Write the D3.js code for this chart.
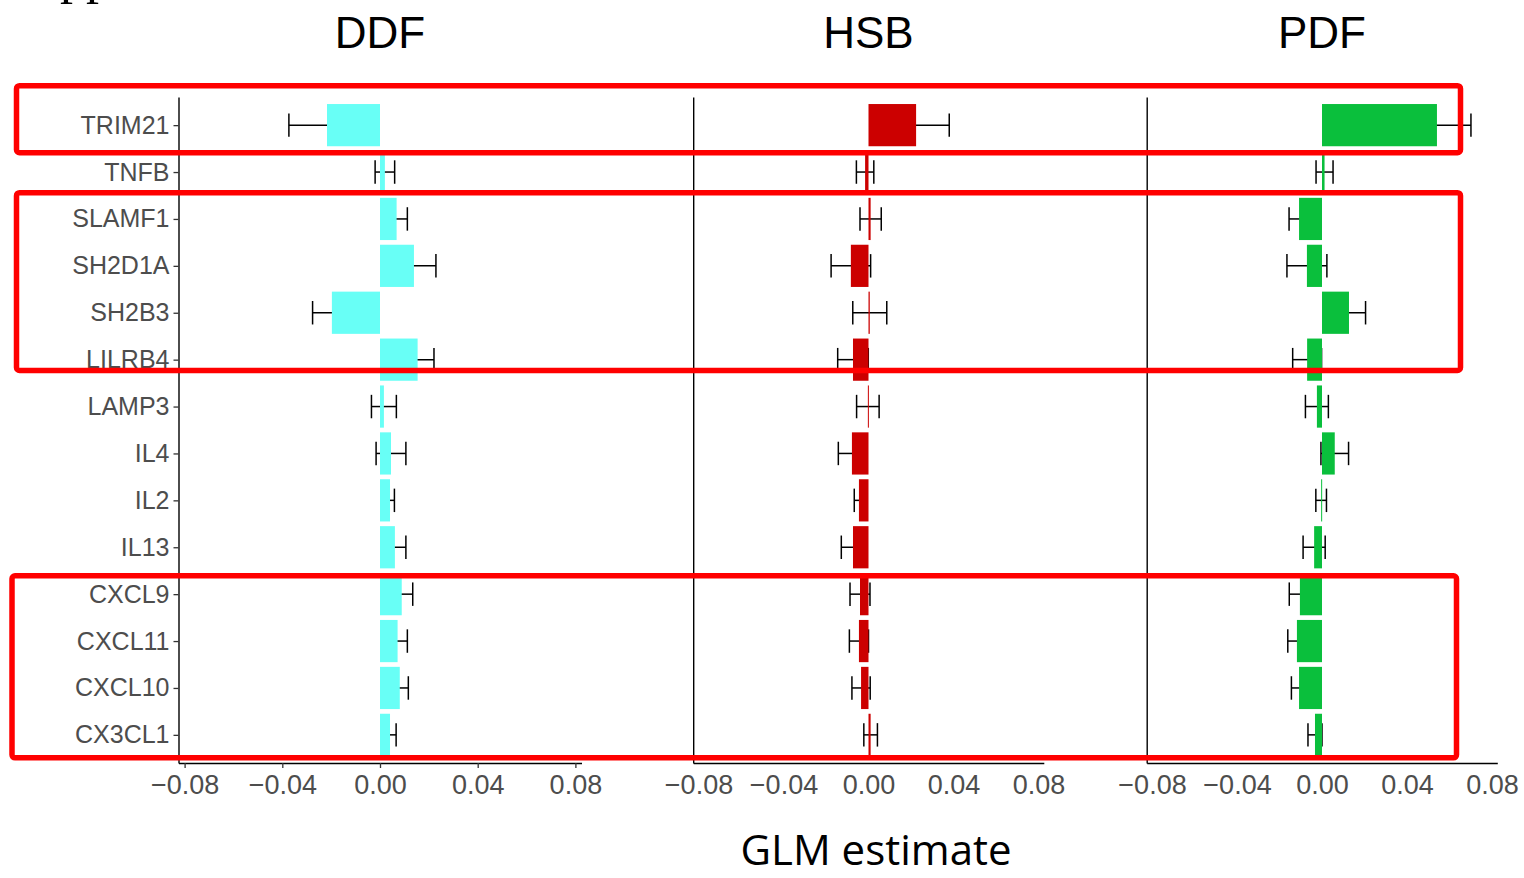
<!DOCTYPE html>
<html>
<head>
<meta charset="utf-8">
<script src="https://cdn.jsdelivr.net/npm/d3@7"></script>
<style>
  body { margin: 0; background: #fff; }
  svg { display: block; }
</style>
</head>
<body>
<svg id="chart"></svg>
<script>
// genes, top to bottom
const genes = ["TRIM21", "TNFB", "SLAMF1", "SH2D1A", "SH2B3", "LILRB4", "LAMP3",
               "IL4", "IL2", "IL13", "CXCL9", "CXCL11", "CXCL10", "CX3CL1"];

// GLM estimates and standard errors per group
const ddfEst = [-0.0217, 0.0020, 0.0068, 0.0139, -0.0197, 0.0154, 0.0016, 0.0045, 0.0041, 0.0061, 0.0089, 0.0072, 0.0081, 0.0041];
const ddfSe  = [0.0156, 0.0040, 0.0044, 0.0090, 0.0079, 0.0067, 0.0051, 0.0061, 0.0018, 0.0045, 0.0045, 0.0040, 0.0035, 0.0025];
const hsbEst = [0.0224, -0.0016, 0.0010, -0.0083, 0.0006, -0.0073, -0.0003, -0.0078, -0.0045, -0.0073, -0.0040, -0.0045, -0.0035, 0.0010];
const hsbSe  = [0.0156, 0.0041, 0.0050, 0.0093, 0.0080, 0.0072, 0.0053, 0.0064, 0.0022, 0.0055, 0.0047, 0.0045, 0.0043, 0.0032];
const pdfEst = [0.0541, 0.0012, -0.0108, -0.0071, 0.0127, -0.0070, -0.0024, 0.0060, -0.0004, -0.0037, -0.0104, -0.0118, -0.0108, -0.0033];
const pdfSe  = [0.0160, 0.0040, 0.0047, 0.0094, 0.0078, 0.0068, 0.0054, 0.0065, 0.0025, 0.0052, 0.0050, 0.0043, 0.0036, 0.0033];

const xTicks = [-0.08, -0.04, 0, 0.04, 0.08];

// highlighted gene groups (red boxes)
const boxGroups = [["TRIM21", "TRIM21"], ["SLAMF1", "LILRB4"], ["CXCL9", "CX3CL1"]];

const W = 1524, H = 878;
const svg = d3.select("#chart").attr("width", W).attr("height", H);
svg.append("rect").attr("width", W).attr("height", H).attr("fill", "#fff");

const panels = [
  { name: "DDF", est: ddfEst, se: ddfSe, color: "#68FFF6", range: [178.5, 581.5], labels: true },
  { name: "HSB", est: hsbEst, se: hsbSe, color: "#CC0000", range: [693.2, 1043.8], labels: false },
  { name: "PDF", est: pdfEst, se: pdfSe, color: "#0ABF3C", range: [1146.7, 1497.3], labels: false }
];

const y = d3.scalePoint().domain(genes).range([97, 763]).padding(0.6);
const step = y.step();
const barH = step * 0.9;
const capH = step * 0.5;
const axisY = 763;
const fmt = d3.format(".2f");

panels.forEach(p => {
  const x = d3.scaleLinear().domain([-0.0825, 0.0825]).range(p.range);
  const g = svg.append("g");
  const rows = genes.map((gene, i) => ({ gene, est: p.est[i], se: p.se[i] }));

  // error bars (behind the bars)
  const eb = g.append("g").attr("stroke", "#000").attr("stroke-width", 1.5).attr("fill", "none");
  rows.forEach(d => {
    const lo = x(d.est - d.se), hi = x(d.est + d.se), cy = y(d.gene);
    eb.append("line").attr("x1", lo).attr("x2", hi).attr("y1", cy).attr("y2", cy);
    eb.append("line").attr("x1", lo).attr("x2", lo).attr("y1", cy - capH / 2).attr("y2", cy + capH / 2);
    eb.append("line").attr("x1", hi).attr("x2", hi).attr("y1", cy - capH / 2).attr("y2", cy + capH / 2);
  });

  // bars
  g.selectAll("rect.bar").data(rows).join("rect")
    .attr("class", "bar")
    .attr("x", d => Math.min(x(0), x(d.est)))
    .attr("width", d => Math.max(1, Math.abs(x(d.est) - x(0))))
    .attr("y", d => y(d.gene) - barH / 2)
    .attr("height", barH)
    .attr("fill", p.color);

  // y axis line
  const yAx = g.append("g").attr("transform", `translate(${p.range[0]},0)`)
    .call(d3.axisLeft(y).tickSize(p.labels ? 5 : 0).tickSizeOuter(0).tickPadding(4));
  yAx.select(".domain").attr("stroke", "#000").attr("stroke-width", 1.4);
  yAx.selectAll(".tick line").attr("stroke", "#333").attr("stroke-width", 1.3);
  if (p.labels) {
    yAx.selectAll("text").attr("font-family", "Liberation Sans, Arial, sans-serif")
      .attr("font-size", 25).attr("fill", "#4D4D4D");
  } else {
    yAx.selectAll("text").remove();
  }

  // x axis
  const xAx = g.append("g").attr("transform", `translate(0,${axisY})`)
    .call(d3.axisBottom(x).tickValues(xTicks).tickFormat(fmt)
      .tickSize(p.labels ? 5 : 0).tickSizeOuter(0).tickPadding(p.labels ? 7 : 12));
  xAx.select(".domain").attr("stroke", "#000").attr("stroke-width", 1.4);
  xAx.selectAll(".tick line").attr("stroke", "#333").attr("stroke-width", 1.3);
  xAx.selectAll("text").attr("font-family", "Liberation Sans, Arial, sans-serif")
    .attr("font-size", 27).attr("fill", "#4D4D4D");

  // panel title
  svg.append("text").attr("x", x(0)).attr("y", 48).attr("text-anchor", "middle")
    .attr("font-family", "Liberation Sans, Arial, sans-serif").attr("font-size", 44)
    .attr("fill", "#000").text(p.name);
});

// x axis title
svg.append("text").attr("x", 876).attr("y", 865).attr("text-anchor", "middle")
  .attr("font-family", "Open Sans, sans-serif").attr("font-size", 42)
  .attr("fill", "#000").text("GLM estimate");

// clipped heading fragment at the very top
svg.append("text").attr("x", 60).attr("y", -7)
  .attr("font-family", "Liberation Serif, serif").attr("font-size", 52)
  .attr("fill", "#000").text("pp");

// red highlight boxes (hand-drawn annotation extents)
const boxPad = [
  { top: 39.5, bottom: 27.5, left: 16.5, right: 1460.5 },
  { top: 26.3, bottom: 10.9, left: 16.5, right: 1460.5 },
  { top: 18.4, bottom: 23, left: 12, right: 1456.5 }
];
boxGroups.forEach((b, i) => {
  const pad = boxPad[i];
  const t = y(b[0]) - pad.top, bt = y(b[1]) + pad.bottom;
  svg.append("rect")
    .attr("x", pad.left).attr("y", t)
    .attr("width", pad.right - pad.left).attr("height", bt - t)
    .attr("rx", 3)
    .attr("fill", "none").attr("stroke", "#FF0000").attr("stroke-width", 5.5);
});
</script>
</body>
</html>
